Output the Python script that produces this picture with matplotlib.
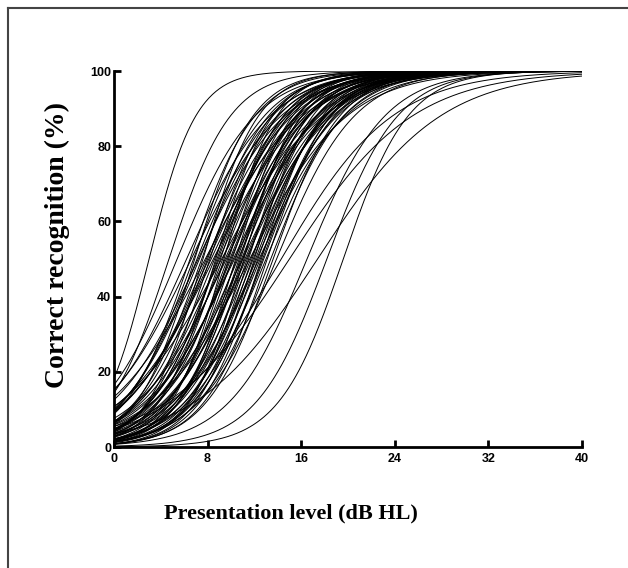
import numpy as np
import matplotlib
matplotlib.use('Agg')
import matplotlib.pyplot as plt
from matplotlib.lines import Line2D

# psychometric functions: 50% point (dB HL) and slope (1/dB)
midpoints = [3.0, 4.7, 5.4, 6.2, 6.5, 6.6, 6.9, 7.1, 7.2, 7.5, 7.6, 7.9, 8.0,
             8.2, 8.3, 8.6, 8.7, 8.8, 9.0, 9.1, 9.3, 9.4, 9.5, 9.7, 9.8, 10.0,
             10.1, 10.2, 10.4, 10.5, 10.6, 10.8, 10.9, 11.0, 11.1, 11.3, 11.4,
             11.5, 11.7, 11.8, 11.9, 12.0, 12.2, 12.3, 12.5, 12.6, 12.8, 13.0,
             13.1, 13.4, 13.6, 13.9, 7.8, 8.5, 9.2, 10.3, 11.6, 12.4, 6.8,
             7.3, 8.9, 9.6, 10.7, 11.2, 12.1, 8.1, 9.9, 11.0, 12.7,
             14.3, 15.0, 16.5, 17.4, 18.2, 19.6]
slopes = [0.50, 0.38, 0.30, 0.28, 0.36, 0.26, 0.40, 0.31, 0.27, 0.35, 0.42,
          0.29, 0.33, 0.38, 0.27, 0.31, 0.41, 0.35, 0.29, 0.37, 0.32, 0.44,
          0.28, 0.34, 0.39, 0.30, 0.36, 0.27, 0.41, 0.33, 0.29, 0.38, 0.31,
          0.35, 0.43, 0.28, 0.34, 0.39, 0.30, 0.36, 0.32, 0.40, 0.29, 0.35,
          0.31, 0.38, 0.33, 0.30, 0.37, 0.32, 0.35, 0.30, 0.24, 0.25, 0.23,
          0.26, 0.24, 0.27, 0.33, 0.30, 0.34, 0.26, 0.37, 0.29, 0.33,
          0.28, 0.31, 0.26, 0.34,
          0.21, 0.19, 0.30, 0.19, 0.33, 0.36]

xticks = [0, 8, 16, 24, 32, 40]
yticks = [0, 20, 40, 60, 80, 100]

x = np.linspace(0, 40, 400)

fig = plt.figure(figsize=(6.28, 5.68), dpi=100)
ax = fig.add_axes([0.1815, 0.213, 0.745, 0.662])

for m, k in zip(midpoints, slopes):
    y = 100 / (1 + np.exp(-k * (x - m)))
    ax.plot(x, y, color='black', lw=0.7)

ax.set_xlim(0, 40)
ax.set_ylim(0, 100)
ax.set_xticks(xticks)
ax.set_yticks(yticks)

for s in ['top', 'right']:
    ax.spines[s].set_visible(False)
for s in ['left', 'bottom']:
    ax.spines[s].set_linewidth(2.0)

ax.tick_params(direction='in', length=5, width=2, labelsize=9, pad=2)
ax.tick_params(axis='x', pad=4)
for lab in ax.get_xticklabels() + ax.get_yticklabels():
    lab.set_fontfamily('Liberation Sans')
    lab.set_fontweight('bold')

fig.text(291 / 628, 1 - 513 / 568, 'Presentation level (dB HL)',
         family='Liberation Serif', weight='bold', fontsize=16,
         ha='center', va='center')
fig.text(57 / 628, 1 - 245 / 568, 'Correct recognition (%)',
         family='Liberation Serif', weight='bold', fontsize=20,
         ha='center', va='center', rotation=90)

# frame around the panel (left and top edges only are visible)
fig.add_artist(Line2D([0.012, 0.012], [0, 0.986], color='#444444', lw=1.5,
                      transform=fig.transFigure))
fig.add_artist(Line2D([0.012, 1.0], [0.986, 0.986], color='#444444', lw=1.5,
                      transform=fig.transFigure))

fig.savefig('out.png', dpi=100)
